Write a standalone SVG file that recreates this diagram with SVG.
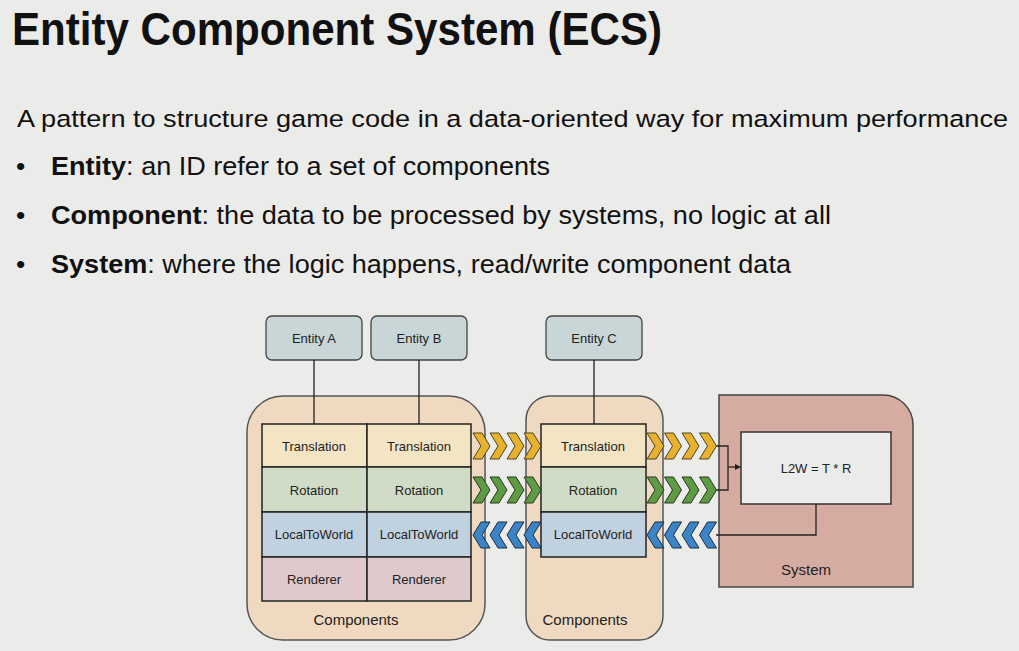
<svg xmlns="http://www.w3.org/2000/svg" width="1019" height="651" viewBox="0 0 1019 651">
<defs>
<style>
text{font-family:"Liberation Sans",Arial,sans-serif;fill:#111}
.t{font-size:13px;fill:#222}
.lbl{font-size:15px;fill:#222}
.ent{fill:#c8d6d8;stroke:#444;stroke-width:1.3}
.cell{stroke:#222;stroke-width:1.5}
.tr{fill:#f3e4c3}.ro{fill:#d0dcc5}.lw{fill:#c0d1e0}.re{fill:#e0c9cc}
.cont{fill:#efd9c1;stroke:#555;stroke-width:1.5}
.ln{fill:none;stroke:#222;stroke-width:1.3}
.y{fill:#e8b22e;stroke:#4a4420;stroke-width:1}
.g{fill:#5f9a45;stroke:#263a1c;stroke-width:1}
.b{fill:#3b84c8;stroke:#1c2c40;stroke-width:1}
</style>
<path id="cr" d="M0,-13 L9,-13 L17,0 L9,13 L0,13 L8,0 Z"/>
<path id="cl" d="M17,-13 L8,-13 L0,0 L8,13 L17,13 L9,0 Z"/>
<marker id="ah" markerWidth="6" markerHeight="6" refX="5" refY="3" orient="auto" markerUnits="userSpaceOnUse"><path d="M0,0 L6,3 L0,6 Z" fill="#222"/></marker>
</defs>
<rect width="1019" height="651" fill="#ebebe9"/>
<text x="12" y="45" font-size="46" font-weight="bold" textLength="650" lengthAdjust="spacingAndGlyphs">Entity Component System (ECS)</text>
<text x="17" y="127" font-size="24.5" textLength="991" lengthAdjust="spacingAndGlyphs">A pattern to structure game code in a data-oriented way for maximum performance</text>
<g font-size="26.5">
<text x="16" y="175">•</text>
<text x="51" y="175" textLength="499" lengthAdjust="spacingAndGlyphs"><tspan font-weight="bold">Entity</tspan>: an ID refer to a set of components</text>
<text x="16" y="224">•</text>
<text x="51" y="224" textLength="780" lengthAdjust="spacingAndGlyphs"><tspan font-weight="bold">Component</tspan>: the data to be processed by systems, no logic at all</text>
<text x="16" y="273">•</text>
<text x="51" y="273" textLength="740" lengthAdjust="spacingAndGlyphs"><tspan font-weight="bold">System</tspan>: where the logic happens, read/write component data</text>
</g>
<g id="components-left">
<rect class="cont" x="247" y="396" width="238" height="244" rx="36"/>
<text class="lbl" x="356" y="625" text-anchor="middle">Components</text>
<rect class="cell tr" x="262" y="424" width="105" height="43"/>
<rect class="cell tr" x="367" y="424" width="104" height="43"/>
<rect class="cell ro" x="262" y="467" width="105" height="45"/>
<rect class="cell ro" x="367" y="467" width="104" height="45"/>
<rect class="cell lw" x="262" y="512" width="105" height="45"/>
<rect class="cell lw" x="367" y="512" width="104" height="45"/>
<rect class="cell re" x="262" y="557" width="105" height="44"/>
<rect class="cell re" x="367" y="557" width="104" height="44"/>
<g text-anchor="middle">
<text class="t" x="314" y="451">Translation</text>
<text class="t" x="419" y="451">Translation</text>
<text class="t" x="314" y="495">Rotation</text>
<text class="t" x="419" y="495">Rotation</text>
<text class="t" x="314" y="539">LocalToWorld</text>
<text class="t" x="419" y="539">LocalToWorld</text>
<text class="t" x="314" y="584">Renderer</text>
<text class="t" x="419" y="584">Renderer</text>
</g>
</g>
<g id="components-mid">
<rect class="cont" x="526" y="396" width="137" height="244" rx="24"/>
<text class="lbl" x="585" y="625" text-anchor="middle">Components</text>
<rect class="cell tr" x="541" y="424" width="105" height="43"/>
<rect class="cell ro" x="541" y="467" width="105" height="45"/>
<rect class="cell lw" x="541" y="512" width="105" height="45"/>
<g text-anchor="middle">
<text class="t" x="593" y="451">Translation</text>
<text class="t" x="593" y="495">Rotation</text>
<text class="t" x="593" y="539">LocalToWorld</text>
</g>
</g>
<g id="system">
<path d="M719,395 H883 A30,30 0 0 1 913,425 V587 H719 Z" fill="#d6aca2" stroke="#444" stroke-width="1.5"/>
<rect x="741" y="432" width="150" height="72" fill="#ebebea" stroke="#333" stroke-width="1.5"/>
<text class="t" x="816" y="473" text-anchor="middle">L2W = T * R</text>
<text class="lbl" x="806" y="575" text-anchor="middle">System</text>
</g>
<g id="entity-a"><rect class="ent" x="266" y="316" width="96" height="44" rx="6"/><text class="t" x="314" y="343" text-anchor="middle" font-size="14.5">Entity A</text></g>
<g id="entity-b"><rect class="ent" x="371" y="316" width="96" height="44" rx="6"/><text class="t" x="419" y="343" text-anchor="middle" font-size="14.5">Entity B</text></g>
<g id="entity-c"><rect class="ent" x="546" y="316" width="96" height="44" rx="6"/><text class="t" x="594" y="343" text-anchor="middle" font-size="14.5">Entity C</text></g>
<g id="connectors">
<path class="ln" d="M716,446 H728 V490 H716"/>
<path class="ln" d="M728,467 H740" marker-end="url(#ah)"/>
<path class="ln" d="M716,535 H816 V504"/>
<path class="ln" d="M314,360 V424 M419,360 V424 M594,360 V424"/>
<g class="y">
<use href="#cr" x="473" y="446"/><use href="#cr" x="490" y="446"/><use href="#cr" x="507" y="446"/><use href="#cr" x="524" y="446"/>
<use href="#cr" x="647" y="446"/><use href="#cr" x="664.5" y="446"/><use href="#cr" x="682" y="446"/><use href="#cr" x="699.5" y="446"/>
</g>
<g class="g">
<use href="#cr" x="473" y="490"/><use href="#cr" x="490" y="490"/><use href="#cr" x="507" y="490"/><use href="#cr" x="524" y="490"/>
<use href="#cr" x="647" y="490"/><use href="#cr" x="664.5" y="490"/><use href="#cr" x="682" y="490"/><use href="#cr" x="699.5" y="490"/>
</g>
<g class="b">
<use href="#cl" x="473" y="535"/><use href="#cl" x="490" y="535"/><use href="#cl" x="507" y="535"/><use href="#cl" x="524" y="535"/>
<use href="#cl" x="647" y="535"/><use href="#cl" x="664.5" y="535"/><use href="#cl" x="682" y="535"/><use href="#cl" x="699.5" y="535"/>
</g>
</g>
</svg>
